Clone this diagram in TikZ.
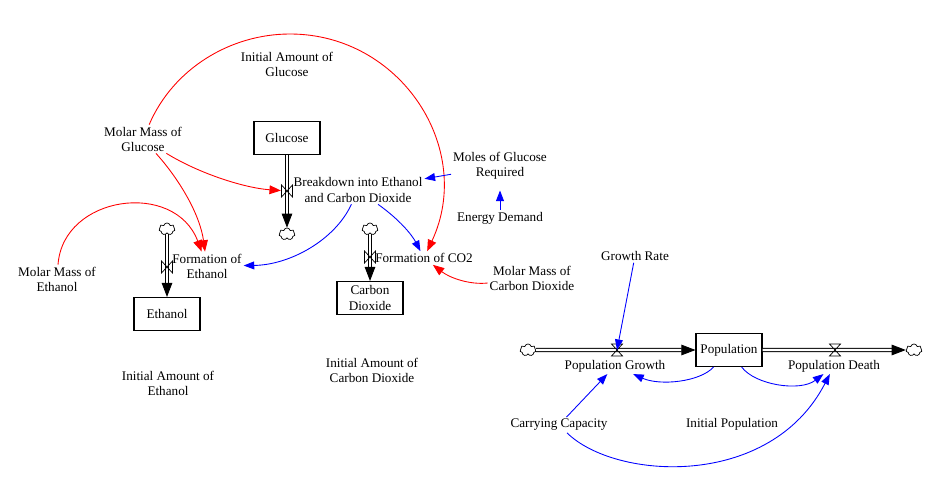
\documentclass[tikz,border=0pt]{standalone}
\usepackage{fontspec}
\setmainfont{Liberation Serif}
\usetikzlibrary{arrows.meta, shapes.symbols}

\begin{document}
\begin{tikzpicture}[
    x=0.02cm, y=-0.02cm,
    >=Triangle,
    every node/.style={align=center, font=\fontsize{7.5}{8.6}\selectfont},
    stock box/.style={draw, line width=0.6pt, minimum width=1.32cm, minimum height=0.66cm, inner sep=1pt},
    aux var/.style={inner sep=1pt},
    sink cloud/.style={cloud, cloud puffs=7, draw, line width=0.4pt, minimum width=0.32cm, minimum height=0.24cm, inner sep=0pt},
    pipe flow/.style={draw=black, double=white, double distance=1.3pt, line width=0.5pt, -{Triangle[length=8pt, width=6pt]}},
    link red/.style={draw=red, line width=0.5pt, -{Triangle[length=6.5pt, width=5pt]}},   % red links
    link blue/.style={draw=blue, line width=0.5pt, -{Triangle[length=6pt, width=4.5pt]}}, % blue links
    valve v/.pic={
        \node[inner sep=0pt, minimum width=0.23cm, minimum height=0.24cm] (-n) {};
        \draw[line width=0.4pt] (-5.5,-6) -- (-5.5,6) -- (5.5,-6) -- (5.5,6) -- cycle;
    },
    valve h/.pic={
        \node[inner sep=0pt, minimum width=0.23cm, minimum height=0.24cm] (-n) {};
        \draw[line width=0.4pt] (-5.5,-6) -- (5.5,-6) -- (-5.5,6) -- (5.5,6) -- cycle;
    }
]
\useasboundingbox (0,0) rectangle (944,500);

% ---- Stocks ----
\node[stock box] (glu) at (287,138) {Glucose};
\node[stock box] (eth) at (167,314) {Ethanol};
\node[stock box] (co2) at (370,298) {Carbon\\Dioxide};
\node[stock box] (pop) at (729,350) {Population};

% ---- Clouds ----
\node[sink cloud] (cglu) at (287,234) {};
\node[sink cloud] (ceth) at (167,229) {};
\node[sink cloud] (cco2) at (370,229) {};
\node[sink cloud] (csrc) at (528,350) {};
\node[sink cloud] (csnk) at (914,350) {};

% ---- Flows (pipes) ----
\draw[pipe flow] (glu) -- (cglu);
\draw[pipe flow] (ceth) -- (eth);
\draw[pipe flow] (cco2) -- (co2);
\draw[pipe flow] (csrc) -- (pop);
\draw[pipe flow] (pop) -- (csnk);

% ---- Valves ----
\pic (vglu) at (287,191) {valve v};
\pic (veth) at (167,267) {valve v};
\pic (vco2) at (370,257) {valve v};
\pic (vpg) at (617,350) {valve h};
\pic (vpd) at (835,350) {valve h};

% ---- Flow labels ----
\node[aux var] (bkd) at (358,190) {Breakdown into Ethanol\\and Carbon Dioxide};
\node[aux var] (feth) at (207,266) {Formation of\\Ethanol};
\node[aux var] (fco2) at (424,258) {Formation of CO2};
\node[aux var] (pg) at (615,366) {Population Growth};
\node[aux var] (pd) at (834,366) {Population Death};

% ---- Auxiliaries ----
\node[aux var] (iag) at (287,64) {Initial Amount of\\Glucose};
\node[aux var] (mmg) at (143,139) {Molar Mass of\\Glucose};
\node[aux var] (mme) at (57,279) {Molar Mass of\\Ethanol};
\node[aux var] (mgr) at (500,166) {Moles of Glucose\\Required};
\node[aux var] (ed) at (500,218) {Energy Demand};
\node[aux var] (mmc) at (532,278) {Molar Mass of\\Carbon Dioxide};
\node[aux var] (iae) at (168,383) {Initial Amount of\\Ethanol};
\node[aux var] (iac) at (372,370) {Initial Amount of\\Carbon Dioxide};
\node[aux var] (gr) at (635,256) {Growth Rate};
\node[aux var] (cc) at (559,425) {Carrying Capacity};
\node[aux var] (ip) at (732,424) {Initial Population};

% ---- Red links ----
\draw[link red] (mmg) .. controls (173,69) and (230,34) .. (290,34)
    .. controls (401,34) and (475,149) .. (fco2);
\draw[link red] (mmg) .. controls (200,174) and (245,188) .. (vglu-n);
\draw[link red] (mmg) .. controls (180,180) and (200,215) .. (feth);
\draw[link red] (mme) .. controls (63,195) and (175,180) .. (feth);
\draw[link red] (mmc) .. controls (470,285) and (450,278) .. (fco2);

% ---- Blue links ----
\draw[link blue] (bkd) .. controls (335,240) and (290,265) .. (feth);
\draw[link blue] (bkd) .. controls (400,220) and (412,235) .. (fco2);
\draw[link blue] (mgr) -- (bkd);
\draw[link blue, shorten >=5pt] (ed) -- (mgr);
\draw[link blue] (gr) -- (vpg-n.center);
\draw[link blue] (pop) .. controls (700,382) and (660,386) .. (pg);
\draw[link blue] (pop) .. controls (755,385) and (800,392) .. (pd);
\draw[link blue] (cc) -- (pg);
\draw[link blue] (cc) .. controls (615,480) and (770,490) .. (pd);

\end{tikzpicture}
\end{document}
